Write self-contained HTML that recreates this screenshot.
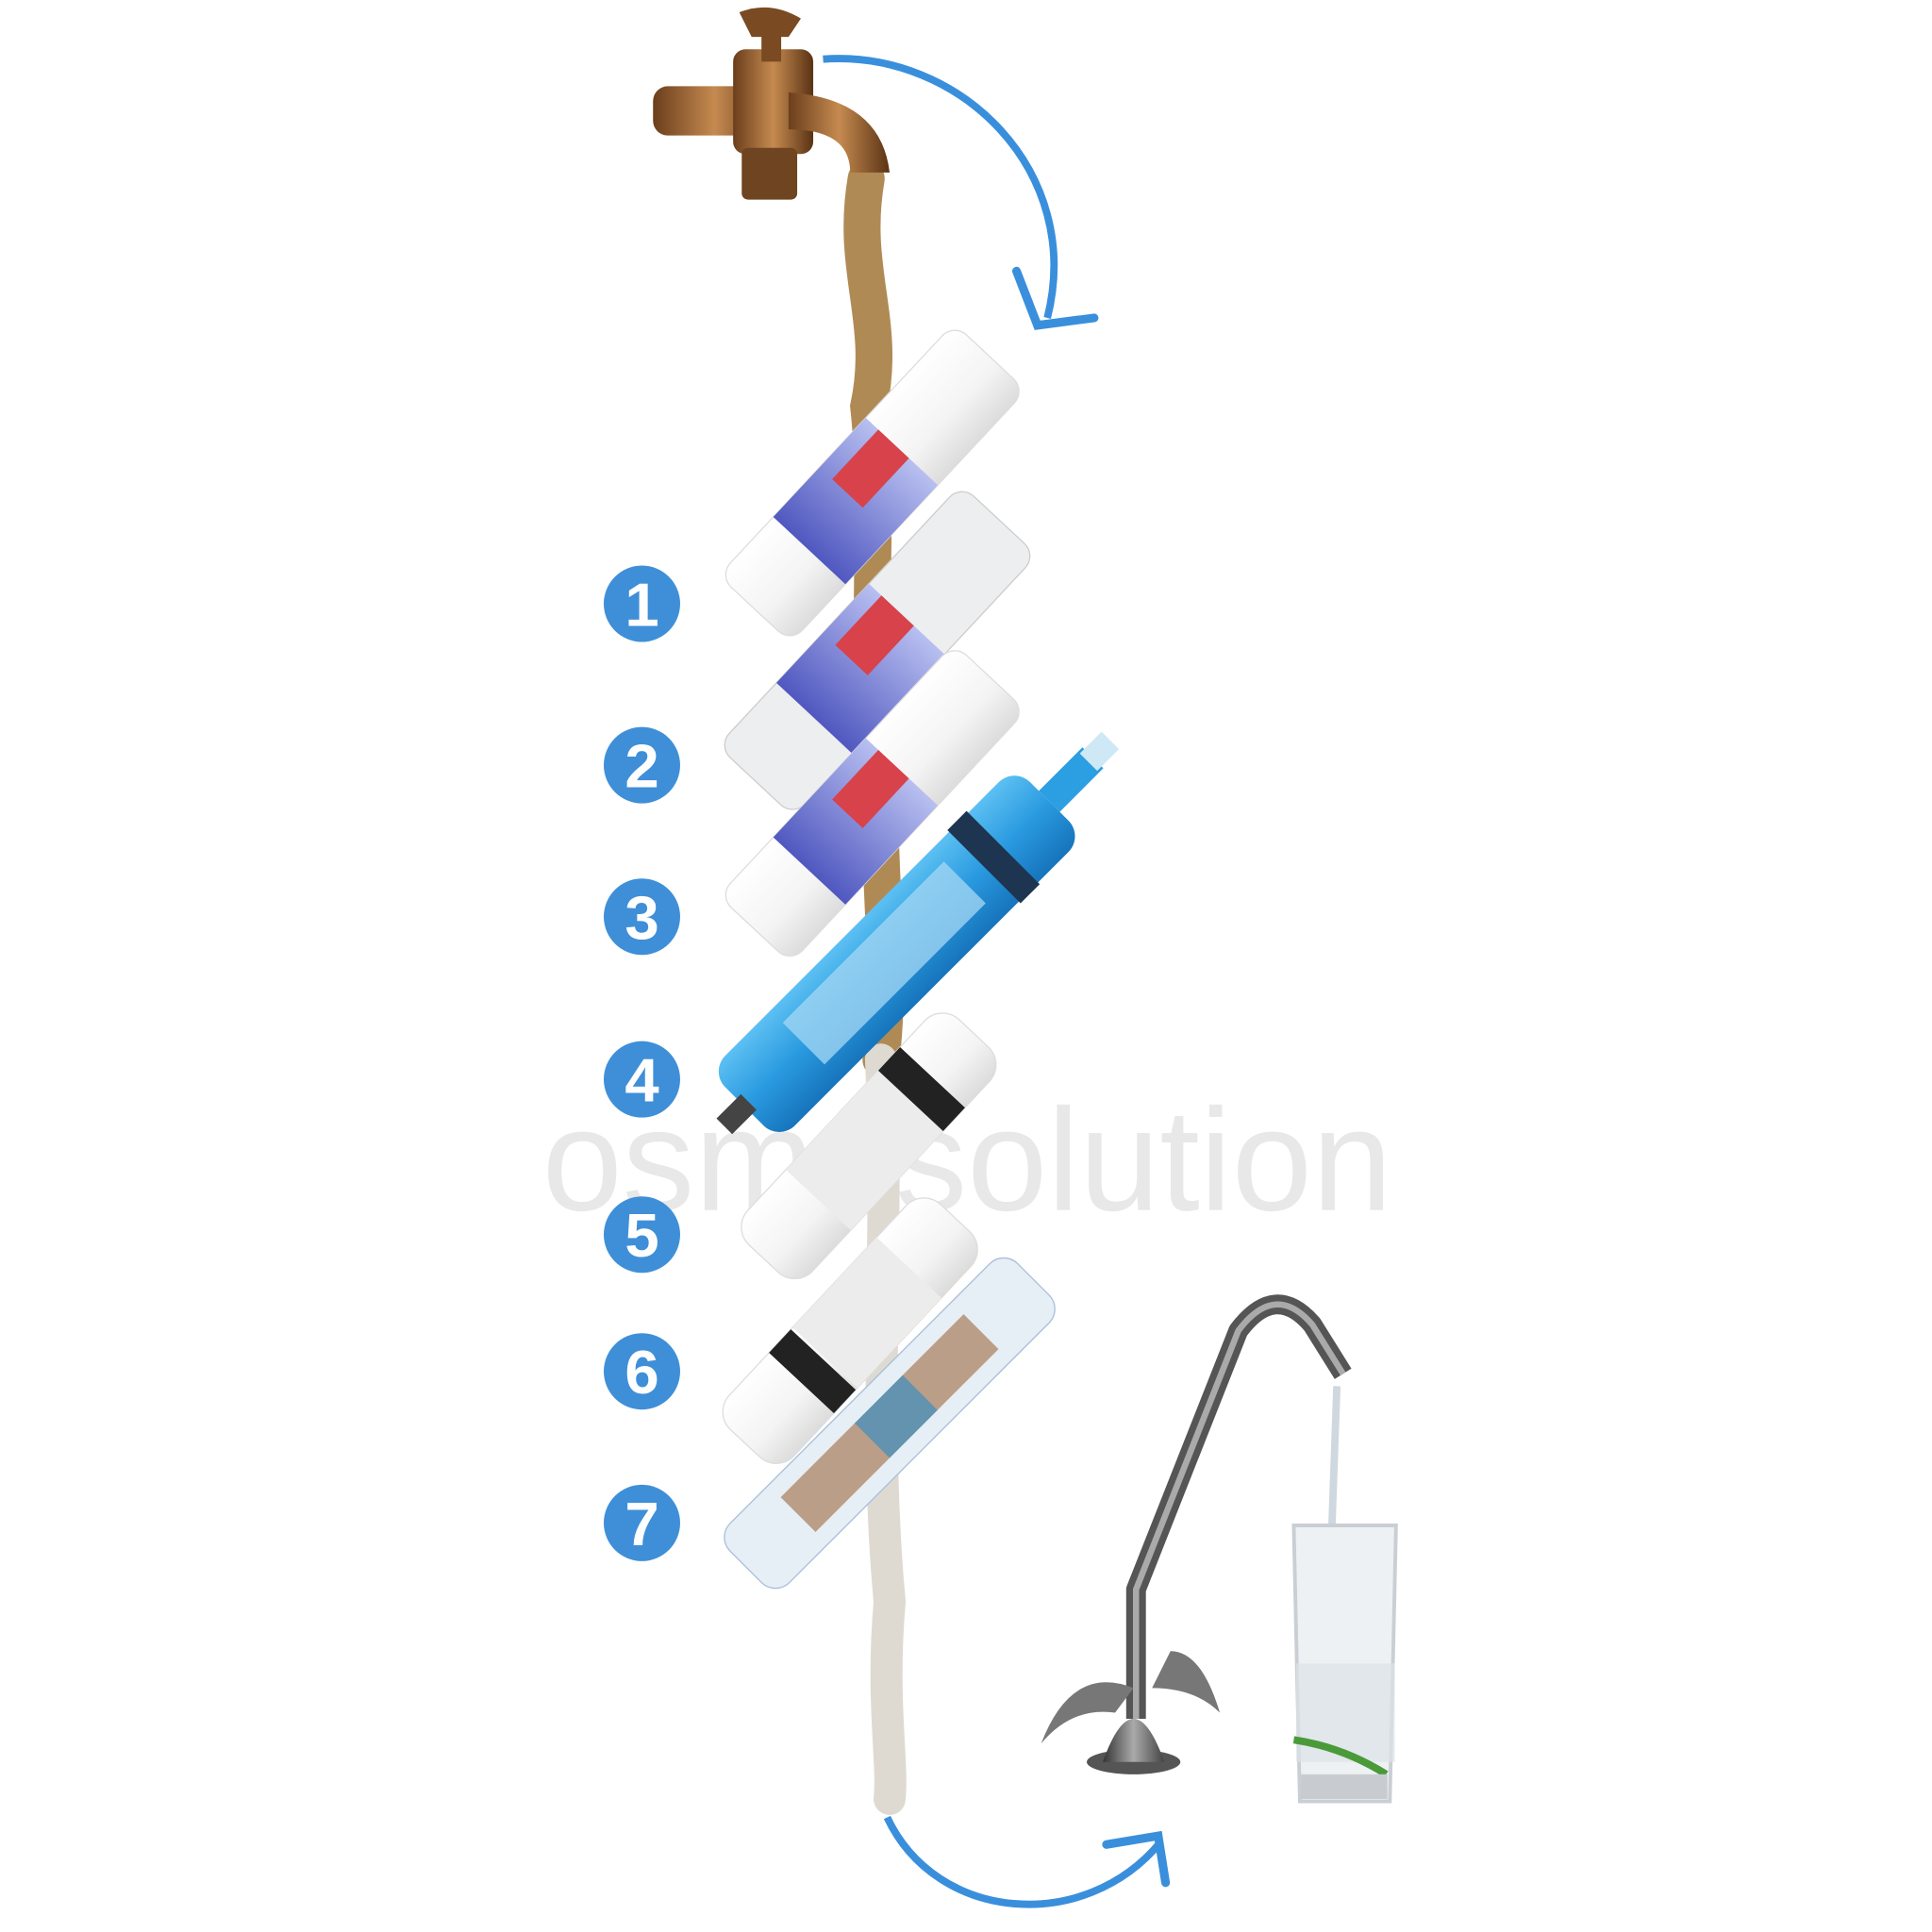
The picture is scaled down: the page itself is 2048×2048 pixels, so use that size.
<!DOCTYPE html>
<html><head><meta charset="utf-8"><style>
html,body{margin:0;padding:0;background:#fff}
svg{display:block}
</style></head><body>
<svg width="2048" height="2048" viewBox="0 0 1568 1568" xmlns="http://www.w3.org/2000/svg">
<defs>
<linearGradient id="br" x1="0" x2="1"><stop offset="0" stop-color="#6b3e1c"/><stop offset=".5" stop-color="#c58a50"/><stop offset="1" stop-color="#5a3315"/></linearGradient>
<linearGradient id="wc" x1="0" x2="0" y1="0" y2="1"><stop offset="0" stop-color="#ffffff"/><stop offset=".6" stop-color="#f4f4f4"/><stop offset="1" stop-color="#dcdcdc"/></linearGradient>
<linearGradient id="bl" x1="0" x2="0" y1="0" y2="1"><stop offset="0" stop-color="#5cc0f2"/><stop offset=".5" stop-color="#2a9ae0"/><stop offset="1" stop-color="#1674bb"/></linearGradient>
<linearGradient id="ch" x1="0" x2="1"><stop offset="0" stop-color="#333"/><stop offset=".5" stop-color="#aaa"/><stop offset="1" stop-color="#444"/></linearGradient>
<linearGradient id="lab" x1="0" x2="1"><stop offset="0" stop-color="#5058c0"/><stop offset="1" stop-color="#b8bff0"/></linearGradient>
</defs>
<rect width="1568" height="1568" fill="#fff"/>
<!-- watermark -->
<text x="440" y="982" font-family="Liberation Sans, sans-serif" font-size="118" fill="#e8e8e8" textLength="690" lengthAdjust="spacingAndGlyphs">osmosolution</text>
<!-- stream -->
<path d="M703 145 C690 220 720 260 705 330 C715 420 700 520 715 600 C710 700 725 780 715 860" stroke="#b08a55" stroke-width="30" fill="none" stroke-linecap="round"/>
<path d="M715 860 C722 1000 708 1150 722 1300 C715 1380 725 1430 722 1460" stroke="#dedad2" stroke-width="26" fill="none" stroke-linecap="round"/>
<!-- tap -->
<rect x="530" y="70" width="100" height="40" rx="12" fill="url(#br)"/>
<rect x="595" y="40" width="65" height="85" rx="10" fill="url(#br)"/>
<path d="M600 10 Q625 0 650 15 L640 30 L610 30 Z" fill="#7a4a22"/>
<rect x="618" y="20" width="16" height="30" fill="#7a4a22"/>
<path d="M640 75 Q715 80 722 140 L690 140 Q690 105 640 105Z" fill="url(#br)"/>
<rect x="602" y="120" width="45" height="42" rx="5" fill="#6f4420"/>
<!-- blue arrows -->
<path d="M668 48 C780 40 880 140 850 258" stroke="#3a8fdc" stroke-width="6" fill="none"/>
<path d="M825 220 L842 264 L888 258" stroke="#3a8fdc" stroke-width="7" fill="none" stroke-linecap="round"/>
<path d="M720 1475 C760 1560 880 1570 942 1495" stroke="#3a8fdc" stroke-width="6" fill="none"/>
<path d="M898 1497 L940 1490 L946 1528" stroke="#3a8fdc" stroke-width="7" fill="none" stroke-linecap="round"/>
<!-- cartridges -->
<g transform="translate(708,392) rotate(-47)">
<rect x="-140" y="-40" width="280" height="80" rx="14" fill="url(#wc)" stroke="#ddd"/>
<rect x="-75" y="-40" width="110" height="80" fill="url(#lab)"/>
<rect x="-20" y="-26" width="55" height="34" fill="#d8424a"/>
</g>
<g transform="translate(712,528) rotate(-47)">
<rect x="-145" y="-42" width="290" height="84" rx="14" fill="#eceef0" stroke="#ccc"/>
<rect x="-75" y="-42" width="110" height="84" fill="url(#lab)"/>
<rect x="-20" y="-28" width="55" height="36" fill="#d8424a"/>
</g>
<g transform="translate(708,652) rotate(-47)">
<rect x="-140" y="-40" width="280" height="80" rx="14" fill="url(#wc)" stroke="#ddd"/>
<rect x="-75" y="-40" width="110" height="80" fill="url(#lab)"/>
<rect x="-20" y="-26" width="55" height="34" fill="#d8424a"/>
</g>
<g transform="translate(742,760) rotate(-45)">
<rect x="-195" y="-40" width="350" height="80" rx="18" fill="url(#bl)"/>
<rect x="80" y="-42" width="22" height="84" fill="#1d3550"/>
<rect x="-125" y="-26" width="185" height="48" fill="#9fd4f3" opacity=".8"/>
<rect x="155" y="-12" width="50" height="24" fill="#2c9ee2"/>
<rect x="200" y="-10" width="25" height="20" fill="#cfe8f5"/>
<rect x="-218" y="-9" width="28" height="18" fill="#444"/>
</g>
<g transform="translate(705,930) rotate(-47)">
<rect x="-125" y="-36" width="250" height="72" rx="20" fill="url(#wc)" stroke="#ddd"/>
<rect x="-60" y="-36" width="110" height="72" fill="#ececec"/>
<rect x="50" y="-36" width="26" height="72" fill="#222"/>
</g>
<g transform="translate(690,1080) rotate(-47)">
<rect x="-125" y="-36" width="250" height="72" rx="20" fill="url(#wc)" stroke="#ddd"/>
<rect x="-30" y="-36" width="100" height="72" fill="#ececec"/>
<rect x="-58" y="-36" width="26" height="72" fill="#222"/>
</g>
<g transform="translate(722,1155) rotate(-45)">
<rect x="-165" y="-34" width="330" height="68" rx="16" fill="#e6eef6" stroke="#a9bfd8"/>
<rect x="-105" y="-20" width="210" height="40" fill="#b08a6c" opacity=".8"/>
<rect x="-20" y="-20" width="55" height="40" fill="#3d8fc0" opacity=".7"/>
</g>
<!-- number circles -->
<g font-family="Liberation Sans, sans-serif" font-size="50" font-weight="bold" fill="#fff" text-anchor="middle">
<circle cx="521" cy="490" r="31" fill="#3f8fd8"/><text x="521" y="508">1</text>
<circle cx="521" cy="621" r="31" fill="#3f8fd8"/><text x="521" y="639">2</text>
<circle cx="521" cy="744" r="31" fill="#3f8fd8"/><text x="521" y="762">3</text>
<circle cx="521" cy="876" r="31" fill="#3f8fd8"/><text x="521" y="894">4</text>
<circle cx="521" cy="1002" r="31" fill="#3f8fd8"/><text x="521" y="1020">5</text>
<circle cx="521" cy="1113" r="31" fill="#3f8fd8"/><text x="521" y="1131">6</text>
<circle cx="521" cy="1236" r="31" fill="#3f8fd8"/><text x="521" y="1254">7</text>
</g>
<!-- faucet -->
<path d="M922 1395 L922 1290 L1005 1080 Q1035 1040 1065 1075 L1090 1115" stroke="#555" stroke-width="16" fill="none" stroke-linejoin="round"/>
<path d="M922 1395 L922 1290 L1005 1080 Q1035 1040 1065 1075 L1090 1115" stroke="#aaa" stroke-width="5" fill="none"/>
<ellipse cx="920" cy="1430" rx="38" ry="10" fill="#555"/>
<path d="M895 1430 Q920 1360 945 1430Z" fill="url(#ch)"/>
<path d="M845 1415 Q870 1350 920 1370 L905 1390 Q870 1385 845 1415Z" fill="#777"/>
<path d="M990 1390 Q975 1340 950 1340 L935 1370 Q970 1370 990 1390Z" fill="#777"/>
<!-- water and glass -->
<path d="M1085 1125 L1076 1380" stroke="#cfd8df" stroke-width="6"/>
<path d="M1050 1238 L1133 1238 L1128 1462 L1055 1462Z" fill="#eef1f3" stroke="#c9cfd4" stroke-width="3"/>
<rect x="1052" y="1350" width="80" height="80" fill="#dde3e8" opacity=".7"/>
<path d="M1050 1412 Q1090 1418 1125 1440" stroke="#4a9a3a" stroke-width="6" fill="none"/>
<rect x="1056" y="1440" width="70" height="20" fill="#c8ccd0"/>
</svg>
</body></html>
